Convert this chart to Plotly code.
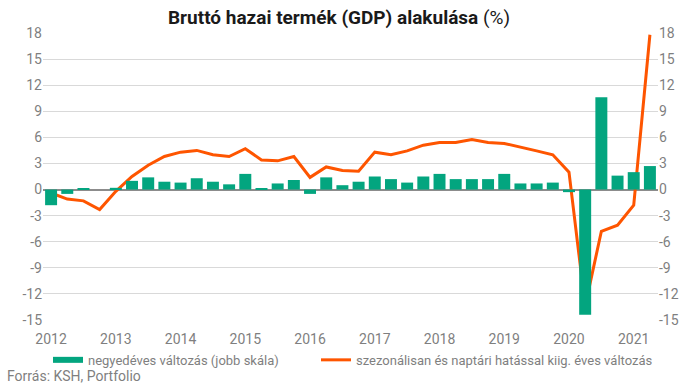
import plotly.graph_objects as go

years = [str(y) for y in range(2012, 2022)]
quarters = [f"{y}Q{q}" for y in range(2012, 2022) for q in range(1, 5)][:38]

qoq_change = [-1.8, -0.5, 0.1, 0.0,
              0.2, 1.0, 1.4, 0.9,
              0.8, 1.3, 0.9, 0.6,
              1.8, 0.1, 0.7, 1.1,
              -0.5, 1.4, 0.5, 0.9,
              1.5, 1.2, 0.8, 1.5,
              1.8, 1.2, 1.2, 1.2,
              1.8, 0.7, 0.7, 0.8,
              -0.3, -14.4, 10.6, 1.6,
              2.0, 2.7]

yoy_sa = [-0.4, -1.1, -1.3, -2.3,
          -0.2, 1.5, 2.8, 3.8,
          4.3, 4.5, 4.0, 3.8,
          4.7, 3.4, 3.3, 3.8,
          1.4, 2.6, 2.2, 2.1,
          4.3, 4.0, 4.45, 5.1,
          5.4, 5.4, 5.75, 5.4,
          5.3, 4.9, 4.45, 4.0,
          2.0, -13.4, -4.8, -4.1,
          -1.8, 17.8]

tick_vals = list(range(-15, 19, 3))
tick_text = [str(v) for v in tick_vals]

bar_name = "negyedéves változás (jobb skála)"
line_name = "szezonálisan és naptári hatással kiig. éves változás"

GREEN = "#03a57f"
ORANGE = "#fe5500"
GRAY = "#7f7f7f"
FONT = "Roboto"

fig = go.Figure()
fig.add_trace(go.Bar(
    x=quarters, y=qoq_change, name=bar_name, showlegend=False,
    marker=dict(color=GREEN, line=dict(width=0)), yaxis="y2", width=0.74,
))
# legend-only entry giving the wide flat swatch of the reference
fig.add_trace(go.Scatter(
    x=[None], y=[None], mode="lines", name=bar_name,
    line=dict(color=GREEN, width=6), legend="legend",
))
fig.add_trace(go.Scatter(
    x=quarters, y=yoy_sa, mode="lines", name=line_name,
    line=dict(color=ORANGE, width=3), legend="legend2",
))

legend_common = dict(
    orientation="h", yanchor="middle", y=-0.139, xanchor="left",
    font=dict(size=13, color=GRAY, family=FONT), itemwidth=30,
    bgcolor="rgba(0,0,0,0)", borderwidth=0,
)

fig.update_layout(
    width=699, height=388,
    margin=dict(l=43, r=41, t=33, b=68, autoexpand=False),
    plot_bgcolor="white", paper_bgcolor="white",
    font=dict(family=FONT, color=GRAY, size=14),
    title=dict(
        text="<b>Bruttó hazai termék (GDP) alakulása</b> (%)",
        x=0.485, xanchor="center", y=0.955, yanchor="middle",
        font=dict(family=FONT, size=19, color="#1a1a1a"),
    ),
    xaxis=dict(
        type="category", categoryorder="array", categoryarray=quarters,
        tickmode="array", tickvals=[f"{y}Q1" for y in years], ticktext=years,
        showgrid=False, ticks="", tickfont=dict(size=14, color=GRAY),
        range=[-0.5, 37.5], showline=False, ticklabelstandoff=9,
    ),
    yaxis=dict(
        range=[-15, 18], tickvals=tick_vals, ticktext=tick_text,
        gridcolor="#d9d9d9", gridwidth=1, zeroline=False,
        tickfont=dict(size=14, color=GRAY), ticks="",
    ),
    yaxis2=dict(
        range=[-15, 18], tickvals=tick_vals, ticktext=tick_text,
        overlaying="y", side="right", showgrid=False,
        zeroline=True, zerolinecolor="#8c8c8c", zerolinewidth=1.5,
        tickfont=dict(size=14, color=GRAY), ticks="",
    ),
    showlegend=True,
    legend=dict(x=(48 - 43) / 615, **legend_common),
    legend2=dict(x=(316 - 43) / 615, **legend_common),
    annotations=[dict(
        text="Forrás: KSH, Portfolio", xref="paper", yref="paper",
        x=-38 / 615, xanchor="left", y=-0.195, yanchor="middle",
        showarrow=False, font=dict(size=14, color=GRAY),
    )],
)

fig.write_html(
    "out.html",
    config={"displayModeBar": False},
    post_script="document.body.style.margin='0';document.body.style.padding='0';",
)
